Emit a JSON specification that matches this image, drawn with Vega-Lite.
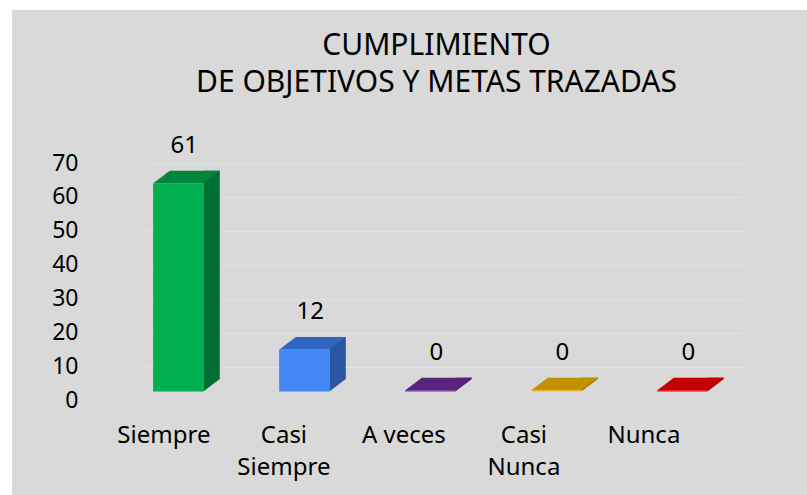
{
  "$schema": "https://vega.github.io/schema/vega-lite/v6.json",
  "width": 795,
  "height": 485,
  "autosize": {"type": "none"},
  "padding": {"left": 12, "top": 10, "right": 0, "bottom": 0},
  "background": "white",
  "config": {
    "view": {"fill": "#d9d9d9", "stroke": null},
    "font": "Noto Sans",
    "axisY": {
      "domain": false,
      "ticks": false,
      "tickSize": 0,
      "labelPadding": -66,
      "labelFontSize": 23,
      "labelColor": "#000000",
      "labelFont": "Noto Sans",
      "title": null,
      "gridColor": "#e3e3e3",
      "gridWidth": 1
    }
  },
  "title": {
    "text": ["CUMPLIMIENTO", "DE OBJETIVOS Y METAS TRAZADAS"],
    "font": "Noto Sans",
    "fontSize": 30,
    "fontWeight": "normal",
    "color": "#000000",
    "lineHeight": 37,
    "anchor": "middle",
    "offset": -88,
    "dx": 27
  },
  "data": {
    "values": [
      {"categoria": "Siempre", "valor": 61},
      {"categoria": "Casi Siempre", "valor": 12},
      {"categoria": "A veces", "valor": 0},
      {"categoria": "Casi Nunca", "valor": 0},
      {"categoria": "Nunca", "valor": 0}
    ]
  },
  "layer": [
    {
      "encoding": {
        "x": {
          "field": "categoria",
          "type": "nominal",
          "sort": null,
          "axis": null,
          "scale": {"type": "band", "range": [135, 731], "paddingInner": 0.6, "paddingOuter": 0.165, "align": 0.147}
        },
        "y": {
          "field": "valor",
          "type": "quantitative",
          "scale": {"domain": [0, 70], "range": [390.5, 153], "nice": false, "zero": true},
          "axis": {
            "values": [0, 10, 20, 30, 40, 50, 60, 70],
            "grid": true,
            "gridOpacity": {"condition": {"test": "datum.value === 0", "value": 0}, "value": 1}
          }
        }
      },
      "layer": [
        {
          "mark": {"type": "bar", "width": 16.5, "xOffset": 33.25, "yOffset": -22.8, "y2Offset": -9},
          "encoding": {
            "y2": {"datum": 0},
            "color": {
              "field": "categoria",
              "type": "nominal",
              "legend": null,
              "scale": {"domain": ["Siempre", "Casi Siempre", "A veces", "Casi Nunca", "Nunca"], "range": ["#006f31", "#2a55a0", "#4a1a6a", "#9a7300", "#9a0000"]}
            }
          }
        },
        {
          "mark": {"type": "point", "shape": "M -1.08 0.82 L 1.2 -0.9 L 1.2 0.9 Z", "size": 272.25, "filled": true, "opacity": 1, "fill": "#d9d9d9", "strokeWidth": 0, "xOffset": 33.25, "yOffset": -15.25},
          "encoding": {
            "y": {"datum": 0, "type": "quantitative"}
          }
        },
        {
          "mark": {"type": "bar", "yOffset": -10.3, "y2Offset": -9},
          "encoding": {
            "y2": {"datum": 0},
            "color": {
              "field": "categoria",
              "type": "nominal",
              "legend": null,
              "scale": {"domain": ["Siempre", "Casi Siempre", "A veces", "Casi Nunca", "Nunca"], "range": ["#00b050", "#4388f4", "#7030a0", "#ffc000", "#ff0000"]}
            }
          }
        },
        {
          "mark": {"type": "point", "shape": "M -1 0.188 L -0.504 -0.188 L 1 -0.188 L 0.504 0.188 Z", "size": 4422, "filled": true, "opacity": 1, "strokeWidth": 0, "xOffset": 8.25, "yOffset": -16.55},
          "encoding": {
            "color": {
              "field": "categoria",
              "type": "nominal",
              "legend": null,
              "scale": {"domain": ["Siempre", "Casi Siempre", "A veces", "Casi Nunca", "Nunca"], "range": ["#00873d", "#3066c1", "#58237a", "#c39000", "#c40000"]}
            }
          }
        },
        {
          "mark": {"type": "text", "font": "Noto Sans", "fontSize": 24, "color": "#000000", "baseline": "middle", "align": "center", "xOffset": 6, "yOffset": -48},
          "encoding": {
            "text": {"field": "valor", "type": "quantitative"}
          }
        }
      ],
      "resolve": {"scale": {"color": "independent"}}
    },
    {
      "mark": {"type": "point", "opacity": 0},
      "encoding": {
        "x": {
          "field": "categoria",
          "type": "nominal",
          "sort": null,
          "scale": {"type": "point", "range": [151.4, 631.4], "padding": 0},
          "axis": {
            "orient": "bottom",
            "offset": -72,
            "domain": false,
            "ticks": false,
            "tickSize": 0,
            "labelPadding": 0,
            "labelAngle": 0,
            "labelFont": "Noto Sans",
            "labelFontSize": 24,
            "labelColor": "#000000",
            "labelBaseline": "top",
            "labelLineHeight": 32,
            "labelOverlap": false,
            "labelFlush": false,
            "labelExpr": "datum.label == 'A veces' ? datum.label : split(datum.label, ' ')",
            "title": null
          }
        }
      }
    }
  ],
  "resolve": {"scale": {"x": "independent"}}
}
